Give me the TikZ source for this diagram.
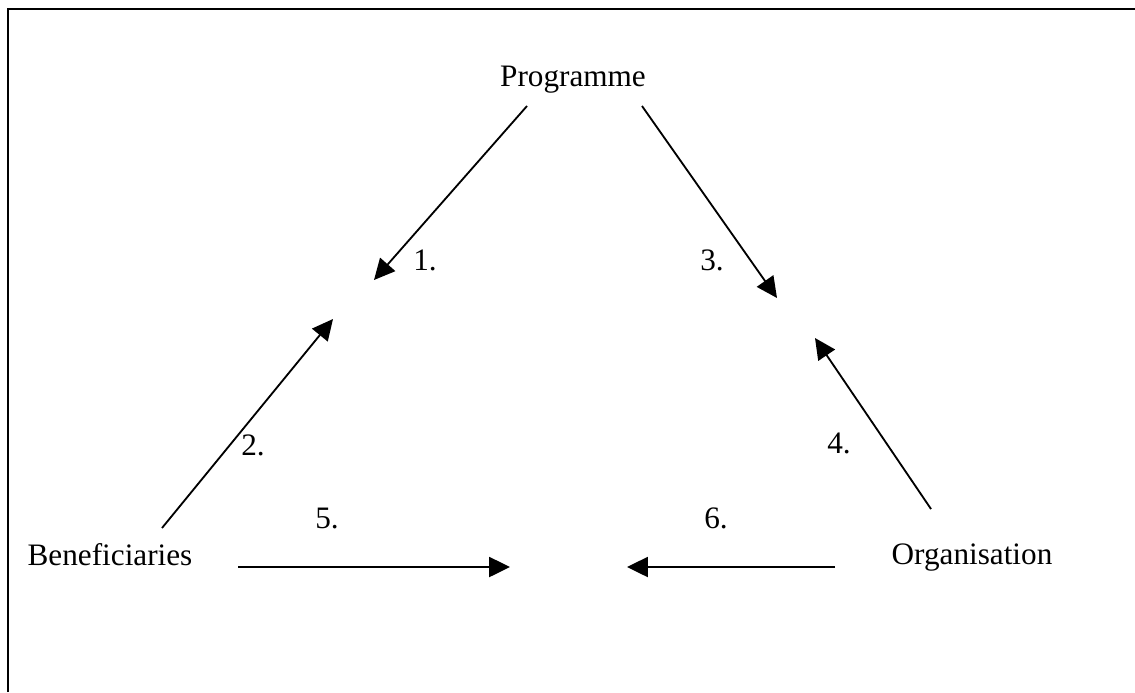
\documentclass[tikz,border=0pt]{standalone}
\usepackage{fontspec}
\setmainfont{Liberation Serif}
\usetikzlibrary{arrows.meta}
\tikzset{
  >={Triangle[length=5.2mm,width=5mm]},
  every picture/.style={line cap=butt, line join=miter},
  party/.style={font=\fontsize{22.2}{26}\selectfont, inner sep=0pt, anchor=base},
  num/.style={font=\fontsize{22.2}{26}\selectfont, inner sep=0pt, anchor=base},
  arr/.style={->, draw=black, line width=1.3pt},
  frame/.style={draw=black, line width=1.4pt},
}
\begin{document}
\begin{tikzpicture}[x=0.025cm, y=-0.025cm]
  \useasboundingbox (0,0) rectangle (1135,692);
  % ---------------- frame ----------------
  \draw[frame] (8,692) -- (8,9) -- (1135,9);

  % ---------------- parties ----------------
  \node[party] (prog) at (573,86) {Programme};
  \node[party] (benf) at (110,565) {Beneficiaries};
  \node[party] (orga) at (972,564) {Organisation};

  % ---------------- arrow ends ----------------
  \coordinate (p1) at (527,106);  \coordinate (t1) at (374,280);
  \coordinate (p2) at (162,528);  \coordinate (t2) at (333,319);
  \coordinate (p3) at (642,106);  \coordinate (t3) at (777,298);
  \coordinate (p4) at (931,509);  \coordinate (t4) at (815,338);
  \coordinate (p5) at (238,567);  \coordinate (t5) at (510,567);
  \coordinate (p6) at (835,567);  \coordinate (t6) at (627,567);

  \draw[arr] (p1) -- (t1);
  \draw[arr] (p2) -- (t2);
  \draw[arr] (p3) -- (t3);
  \draw[arr] (p4) -- (t4);
  \draw[arr] (p5) -- (t5);
  \draw[arr] (p6) -- (t6);

  % ---------------- numbers ----------------
  \node[num] (n1) at (425,270) {1.};
  \node[num] (n2) at (253,455) {2.};
  \node[num] (n3) at (712,270) {3.};
  \node[num] (n4) at (839,453) {4.};
  \node[num] (n5) at (327,528) {5.};
  \node[num] (n6) at (716,528) {6.};
\end{tikzpicture}
\end{document}
